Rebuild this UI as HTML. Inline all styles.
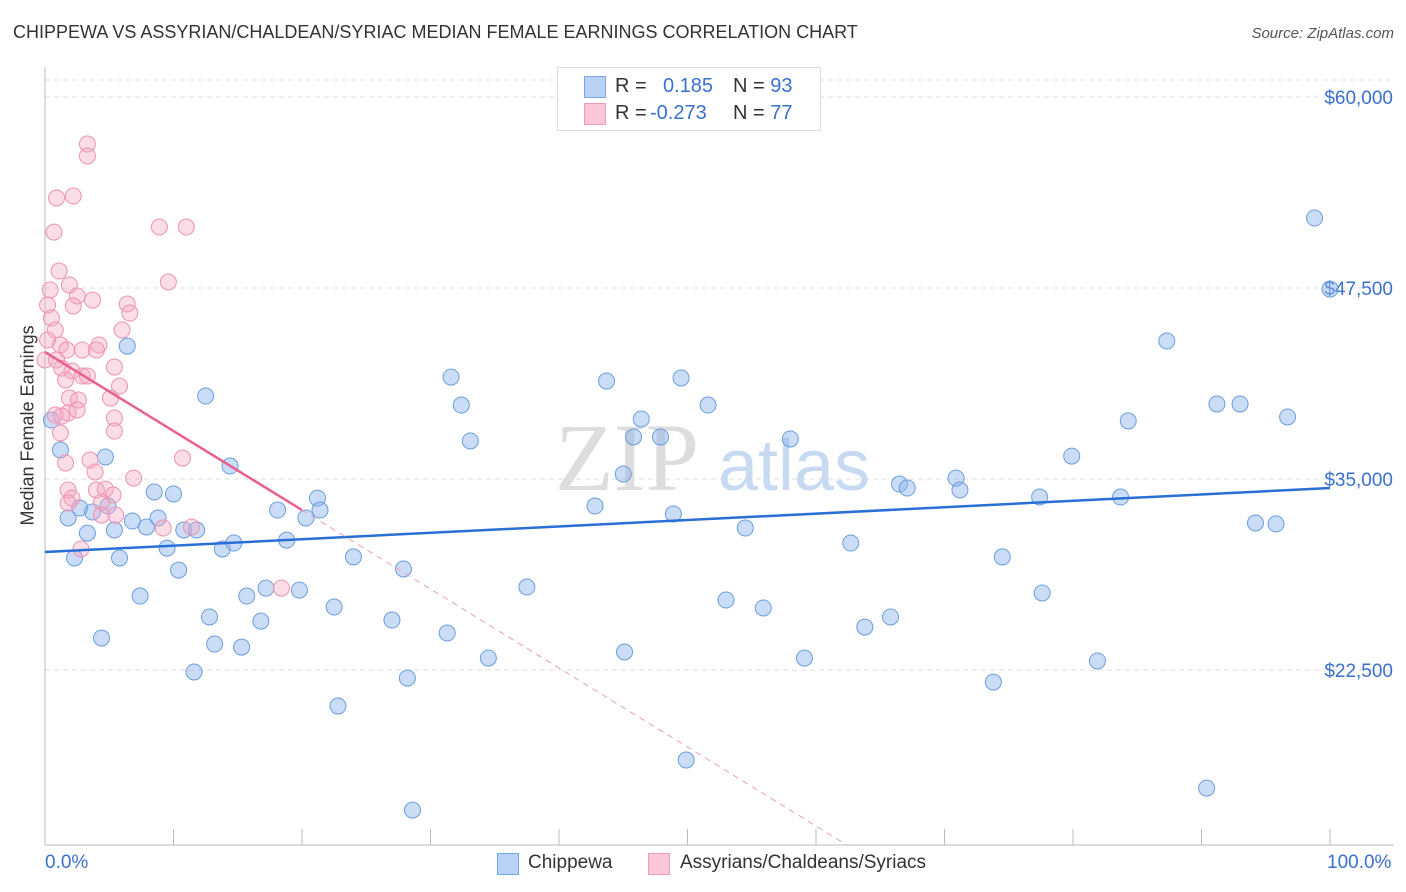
<!DOCTYPE html>
<html><head><meta charset="utf-8"><style>
body{margin:0;background:#fff;font-family:"Liberation Sans",sans-serif;}
#wrap{position:relative;width:1406px;height:892px;overflow:hidden;}
.t{position:absolute;white-space:nowrap;}
</style></head><body>
<div id="wrap">
<div class="t" style="left:13px;top:22px;font-size:18px;color:#333;">CHIPPEWA VS ASSYRIAN/CHALDEAN/SYRIAC MEDIAN FEMALE EARNINGS CORRELATION CHART</div>
<div class="t" style="right:12px;top:25px;font-size:15px;color:#555;font-style:italic;">Source: ZipAtlas.com</div>
<svg id="svg" width="1406" height="892" style="position:absolute;left:0;top:0"></svg>
</div>
<script>
const xTicksPct=[0,10,20,30,40,50,60,70,80,90,100];
const yTicks=[22500,35000,47500,60000];
const yTickLabels=["$22,500","$35,000","$47,500","$60,000"];
const blueX=[0.5,6.4,12.5,14.4,4.7,1.2,1.8,2.3,2.7,3.3,3.7,4.4,4.9,5.4,5.8,6.8,7.4,7.9,8.5,8.8,9.5,10.0,10.4,10.8,11.6,11.8,12.8,13.2,13.8,14.7,15.3,15.7,16.8,17.2,18.1,18.8,19.8,20.3,21.2,21.4,22.5,22.8,24.0,27.0,27.9,28.2,28.6,31.3,31.6,32.4,33.1,34.5,37.5,42.8,43.7,45.0,45.1,45.8,46.4,47.9,48.9,49.5,49.9,51.6,53.0,54.5,55.9,58.0,59.1,62.7,63.8,65.8,66.5,67.1,70.9,71.2,73.8,74.5,77.4,77.6,79.9,81.9,83.7,84.3,87.3,90.4,91.2,93.0,94.2,95.8,96.7,98.8,100];
const blueY=[38.86,43.7,40.43,35.85,36.44,36.9,32.45,29.83,33.1,31.46,32.84,24.59,33.23,31.66,29.83,32.25,27.34,31.86,34.15,32.45,30.48,34.02,29.04,31.66,22.37,31.66,25.97,24.2,30.42,30.81,24.0,27.34,25.7,27.86,32.97,31.0,27.73,32.45,33.75,32.97,26.62,20.14,29.9,25.77,29.11,21.97,13.33,24.92,41.67,39.84,37.49,23.28,27.93,33.23,41.41,35.33,23.68,37.75,38.93,37.75,32.71,41.61,16.61,39.84,27.08,31.79,26.56,37.62,23.28,30.81,25.31,25.97,34.67,34.41,35.06,34.28,21.71,29.9,33.82,27.54,36.5,23.09,33.82,38.8,44.03,14.77,39.91,39.91,32.12,32.06,39.06,52.08,47.43];
const pinkX=[3.3,3.3,2.2,0.9,0.7,8.9,11.0,1.1,9.6,1.9,0.4,2.5,3.7,6.4,2.2,0.2,0.5,6.6,0.8,6.0,0.2,1.2,4.2,2.9,4.0,1.7,0,0.9,5.4,1.3,2.1,2.9,3.3,1.6,5.8,5.1,1.9,2.6,0.8,1.8,2.5,1.3,5.4,1.2,5.4,3.5,1.6,3.9,6.9,10.7,1.8,4.0,2.1,4.7,5.3,4.4,1.8,5.5,4.4,9.2,11.4,2.8,18.4];
const pinkY=[56.92,56.14,53.52,53.39,51.16,51.49,51.49,48.61,47.89,47.7,47.37,46.98,46.71,46.45,46.32,46.39,45.54,45.86,44.75,44.75,44.1,43.77,43.77,43.44,43.44,43.44,42.79,42.79,42.33,42.26,42.07,41.74,41.74,41.48,41.08,40.3,40.3,40.17,39.19,39.32,39.52,39.12,38.99,38.01,38.14,36.24,36.05,35.46,35.06,36.37,34.28,34.28,33.75,34.34,33.95,33.49,33.43,32.64,32.64,31.79,31.86,30.42,27.86];
const blueTrend=[30.22,34.41];
const pinkTrend=[43.31,32.97];
const pinkSolidEnd=20;

const X0=45,X1=1330,YB=845;
const sx=p=>X0+(X1-X0)*p/100;
const sy=v=>97+(60-v)*191/12.5;
const NS="http://www.w3.org/2000/svg";
const svg=document.getElementById('svg');
function mk(tag,attrs,parent){const e=document.createElementNS(NS,tag);for(const k in attrs)e.setAttribute(k,attrs[k]);(parent||svg).appendChild(e);return e;}

let g=mk('line',{x1:X0,x2:1394,y1:80,y2:80,stroke:'#ddd','stroke-dasharray':'5,4'});


yTicks.forEach((v,i)=>{
  const l=mk('line',{x1:X0,x2:1394,y1:sy(v/1000),y2:sy(v/1000),stroke:'#ddd','stroke-dasharray':'5,4'});
  
  
  const t=mk('text',{x:1393,y:sy(v/1000)+7,'text-anchor':'end','font-size':19,fill:'#3a70d0'});
  t.textContent=yTickLabels[i];
  
  
});
let ax=mk('line',{x1:X0,x2:X0,y1:67,y2:YB,stroke:'#bbb'});


let bx=mk('line',{x1:X0,x2:1394,y1:YB,y2:YB,stroke:'#bbb'});


xTicksPct.forEach(p=>{
  const l=mk('line',{x1:sx(p),x2:sx(p),y1:829,y2:YB,stroke:'#bbb'});
  
  
});
// watermark
let wm=mk('text',{x:555,y:490,'font-size':96,fill:'#ddd','font-family':'Liberation Serif'});wm.textContent='ZIP';


let wm2=mk('text',{x:718,y:490,'font-size':72,fill:'#c8daf2'});wm2.textContent='atlas';



blueX.forEach((x,i)=>{
  const c=mk('circle',{cx:sx(x),cy:sy(blueY[i]),r:8,fill:'rgba(140,180,235,0.45)',stroke:'#6a9ee0','stroke-width':1});
  
  
});
pinkX.forEach((x,i)=>{
  const c=mk('circle',{cx:sx(x),cy:sy(pinkY[i]),r:8,fill:'rgba(245,170,195,0.4)',stroke:'#ee92b2','stroke-width':1});
  
  
});
let bt=mk('line',{x1:sx(0),y1:sy(blueTrend[0]),x2:sx(100),y2:sy(blueTrend[1]),stroke:'#2a6fd6','stroke-width':2.5});


const slope=(pinkTrend[1]-pinkTrend[0])/pinkSolidEnd;
const pv=p=>pinkTrend[0]+slope*p;
const endP=(pinkTrend[0]-(60-(YB-97)*12.5/191))/-slope;
let pt=mk('line',{x1:sx(0),y1:sy(pv(0)),x2:sx(pinkSolidEnd),y2:sy(pv(pinkSolidEnd)),stroke:'#e8608e','stroke-width':2.5});


let pd=mk('line',{x1:sx(pinkSolidEnd),y1:sy(pv(pinkSolidEnd)),x2:sx(endP),y2:sy(pv(endP)),stroke:'#e8a0b8','stroke-width':1,'stroke-dasharray':'6,5'});


</script>
<div class="t" style="left:-42px;top:445px;transform:rotate(-90deg);font-size:18px;color:#333;width:140px;text-align:center;">Median Female Earnings</div>
<div class="t" style="left:45px;top:852px;font-size:19px;color:#3a70d0;">0.0%</div>
<div class="t" style="left:1327px;top:852px;font-size:19px;color:#3a70d0;">100.0%</div>
<div style="position:absolute;left:557px;top:67px;width:262px;height:62px;border:1px solid #ddd;background:#fff;font-size:20px;">
 <div style="position:absolute;left:26px;top:8px;width:20px;height:20px;background:#b8d2f4;border:1px solid #7aa8e6;"></div>
 <div class="t" style="left:57px;top:7px;color:#333;">R =</div>
 <div class="t" style="left:105px;top:7px;color:#3a70d0;">0.185</div>
 <div class="t" style="left:175px;top:7px;color:#333;">N = <span style="color:#3a70d0">93</span></div>
 <div style="position:absolute;left:26px;top:35px;width:20px;height:20px;background:#fbc8d8;border:1px solid #f09ab8;"></div>
 <div class="t" style="left:57px;top:34px;color:#333;">R =</div>
 <div class="t" style="left:92px;top:34px;color:#3a70d0;">-0.273</div>
 <div class="t" style="left:175px;top:34px;color:#333;">N = <span style="color:#3a70d0">77</span></div>
</div>
<div style="position:absolute;left:497px;top:852px;font-size:19px;color:#333;">
 <div style="position:absolute;left:0;top:1px;width:20px;height:20px;background:#b8d2f4;border:1px solid #7aa8e6;"></div>
 <div class="t" style="left:31px;top:0;">Chippewa</div>
 <div style="position:absolute;left:151px;top:1px;width:20px;height:20px;background:#fbc8d8;border:1px solid #f09ab8;"></div>
 <div class="t" style="left:183px;top:0;">Assyrians/Chaldeans/Syriacs</div>
</div>
</body></html>
